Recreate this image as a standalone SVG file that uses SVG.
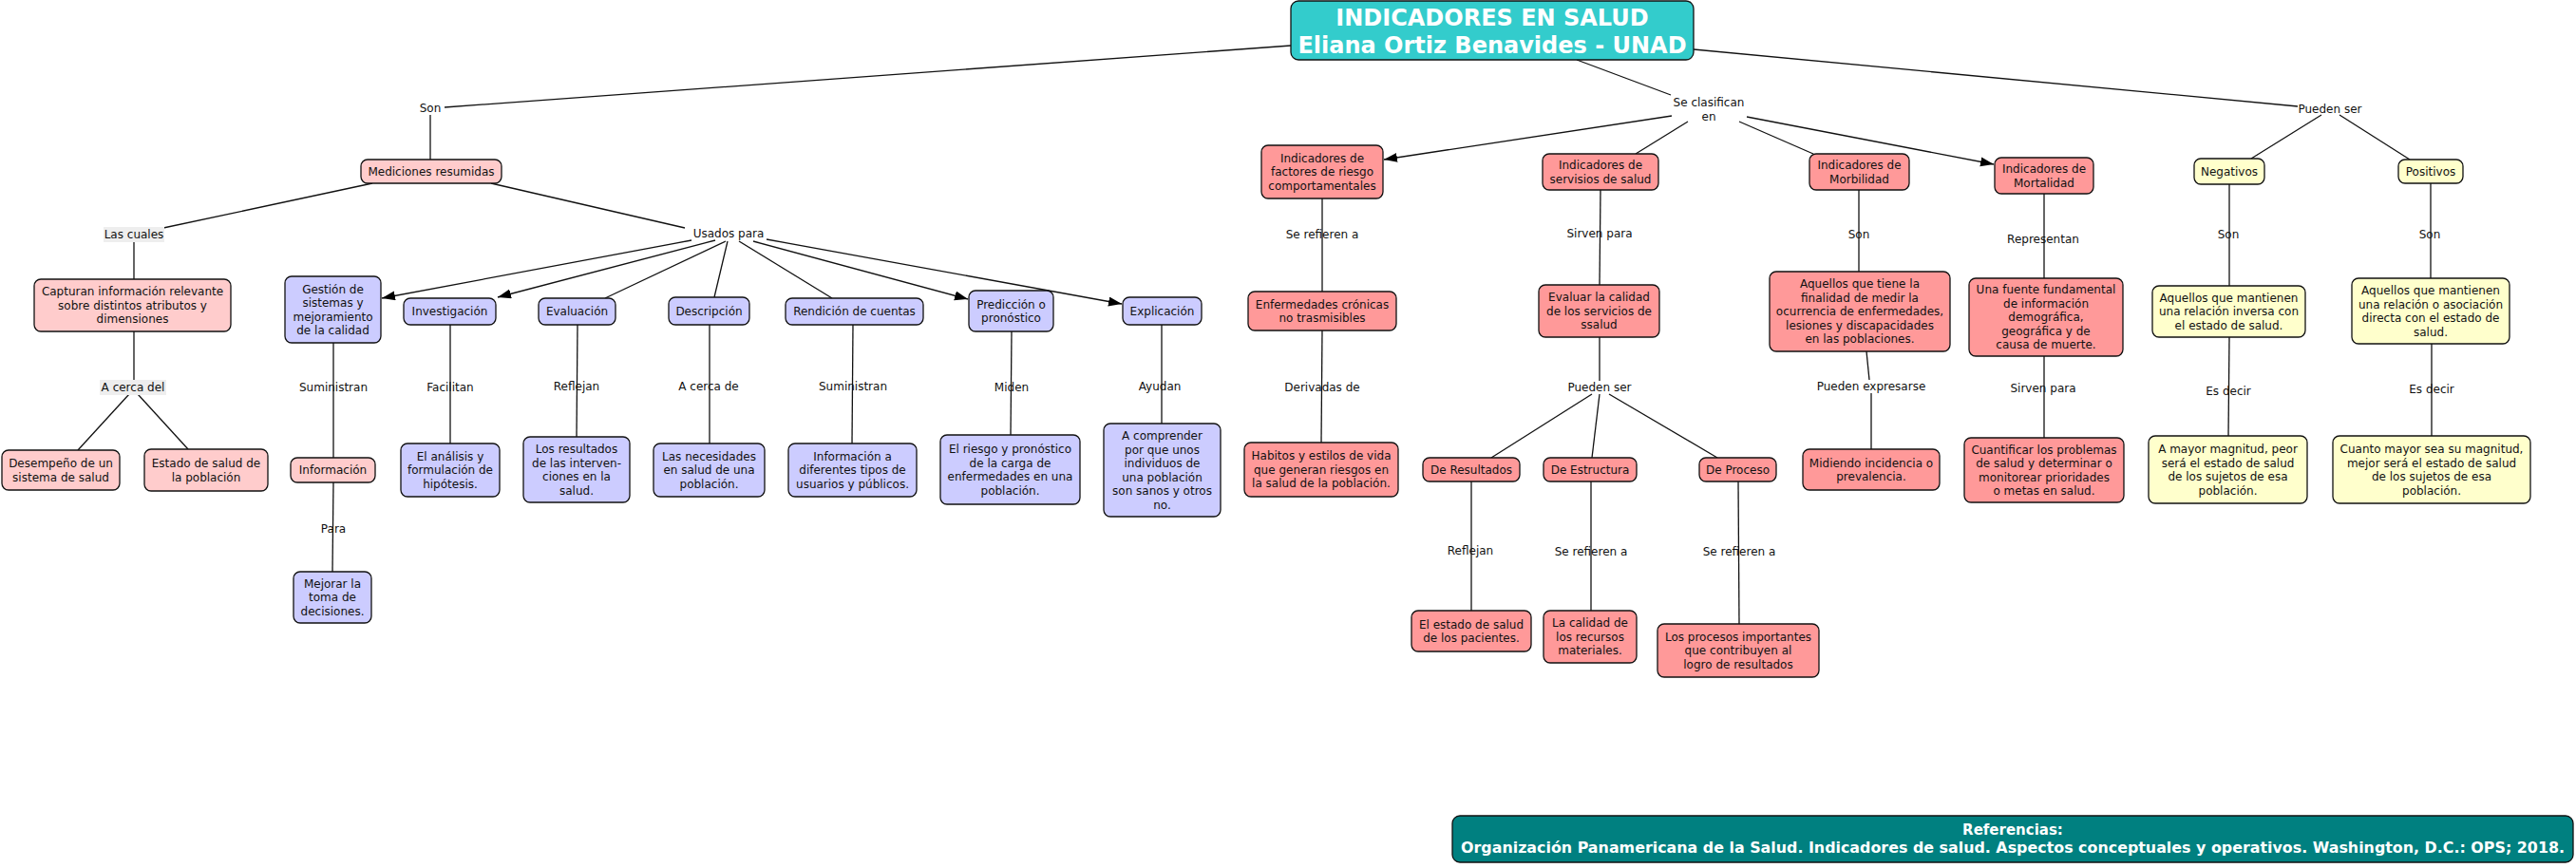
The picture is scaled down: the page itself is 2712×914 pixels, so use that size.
<svg xmlns="http://www.w3.org/2000/svg" width="2712" height="914" viewBox="0 0 2712 914">
<style>
text{font-family:"DejaVu Sans",Verdana,sans-serif;font-size:12px;fill:#111;text-anchor:middle}
.b{stroke:#111;stroke-width:1.3}
.pk{fill:#ffcccc}.lv{fill:#ccccff}.sa{fill:#ff9999}.ye{fill:#ffffcc}
.c line{stroke:#111;stroke-width:1.3}
.ttl{font-size:24px;font-weight:bold;fill:#fff}
.ref{font-size:15px;font-weight:bold;fill:#fff}
</style>
<defs>
<marker id="ar" markerUnits="userSpaceOnUse" markerWidth="16" markerHeight="12" refX="14" refY="5" orient="auto">
<path d="M0,0 L14,5 L0,10 z" fill="#000"/>
</marker>
</defs>
<rect width="2712" height="914" fill="#fff"/>

<g id="connectors" class="c">
<line x1="1359" y1="48" x2="468" y2="113"/>
<line x1="453" y1="121" x2="453" y2="168"/>
<line x1="392" y1="193" x2="172" y2="240"/>
<line x1="141" y1="254" x2="141" y2="294"/>
<line x1="141" y1="349" x2="141" y2="401"/>
<line x1="136" y1="415" x2="82" y2="474"/>
<line x1="145" y1="415" x2="198" y2="473"/>
<line x1="517" y1="193" x2="721" y2="240"/>
<line x1="728" y1="253" x2="402" y2="314" marker-end="url(#ar)"/>
<line x1="753" y1="253" x2="524" y2="313" marker-end="url(#ar)"/>
<line x1="764" y1="254" x2="637" y2="314"/>
<line x1="766" y1="254" x2="752" y2="313"/>
<line x1="778" y1="254" x2="876" y2="314"/>
<line x1="793" y1="254" x2="1019" y2="315" marker-end="url(#ar)"/>
<line x1="807" y1="252" x2="1181" y2="320" marker-end="url(#ar)"/>
<line x1="351" y1="361" x2="351" y2="482"/>
<line x1="351" y1="508" x2="350" y2="602"/>
<line x1="474" y1="342" x2="474" y2="467"/>
<line x1="608" y1="342" x2="607" y2="460"/>
<line x1="747" y1="342" x2="747" y2="467"/>
<line x1="898" y1="342" x2="897" y2="467"/>
<line x1="1065" y1="349" x2="1064" y2="458"/>
<line x1="1223" y1="342" x2="1223" y2="446"/>
<line x1="1660" y1="63" x2="1759" y2="100"/>
<line x1="1760" y1="122" x2="1457" y2="168" marker-end="url(#ar)"/>
<line x1="1777" y1="128" x2="1722" y2="162"/>
<line x1="1831" y1="128" x2="1909" y2="162"/>
<line x1="1839" y1="123" x2="2099" y2="173" marker-end="url(#ar)"/>
<line x1="1392" y1="209" x2="1392" y2="307"/>
<line x1="1392" y1="348" x2="1391" y2="466"/>
<line x1="1685" y1="200" x2="1684" y2="300"/>
<line x1="1684" y1="355" x2="1684" y2="401"/>
<line x1="1676" y1="415" x2="1570" y2="482"/>
<line x1="1684" y1="415" x2="1676" y2="482"/>
<line x1="1694" y1="415" x2="1808" y2="482"/>
<line x1="1549" y1="507" x2="1549" y2="643"/>
<line x1="1675" y1="507" x2="1675" y2="643"/>
<line x1="1830" y1="507" x2="1831" y2="657"/>
<line x1="1957" y1="200" x2="1957" y2="286"/>
<line x1="1965" y1="370" x2="1968" y2="400"/>
<line x1="1970" y1="414" x2="1970" y2="473"/>
<line x1="2152" y1="204" x2="2152" y2="293"/>
<line x1="2152" y1="375" x2="2152" y2="461"/>
<line x1="1783" y1="52" x2="2419" y2="112"/>
<line x1="2444" y1="121" x2="2370" y2="167"/>
<line x1="2463" y1="121" x2="2537" y2="168"/>
<line x1="2347" y1="194" x2="2347" y2="301"/>
<line x1="2347" y1="355" x2="2346" y2="459"/>
<line x1="2559" y1="193" x2="2559" y2="293"/>
<line x1="2560" y1="362" x2="2560" y2="459"/>
</g>

<g id="labels">
<text x="453" y="118">Son</text>
<rect x="109" y="239" width="64" height="16" fill="#eeeeee"/>
<text x="141" y="251">Las cuales</text>
<rect x="105" y="400" width="70" height="16" fill="#eeeeee"/>
<text x="140" y="412">A cerca del</text>
<text x="767" y="250">Usados para</text>
<text x="351" y="412">Suministran</text>
<text x="351" y="561">Para</text>
<text x="474" y="412">Facilitan</text>
<text x="607" y="411">Reflejan</text>
<text x="746" y="411">A cerca de</text>
<text x="898" y="411">Suministran</text>
<text x="1065" y="412">Miden</text>
<text x="1221" y="411">Ayudan</text>
<text x="1799" y="112">Se clasifican</text>
<text x="1799" y="127">en</text>
<text x="1392" y="251">Se refieren a</text>
<text x="1392" y="412">Derivadas de</text>
<text x="1684" y="250">Sirven para</text>
<text x="1684" y="412">Pueden ser</text>
<text x="1548" y="584">Reflejan</text>
<text x="1675" y="585">Se refieren a</text>
<text x="1831" y="585">Se refieren a</text>
<text x="1957" y="251">Son</text>
<text x="1970" y="411">Pueden expresarse</text>
<text x="2151" y="256">Representan</text>
<text x="2151" y="413">Sirven para</text>
<text x="2453" y="119">Pueden ser</text>
<text x="2346" y="251">Son</text>
<text x="2558" y="251">Son</text>
<text x="2346" y="416">Es decir</text>
<text x="2560" y="414">Es decir</text>
</g>

<g id="title"><rect class="b" x="1359" y="1" width="424" height="62" rx="8" fill="#33cccc"/>
<text class="ttl" x="1571" y="27">INDICADORES EN SALUD</text>
<text class="ttl" x="1571" y="56">Eliana Ortiz Benavides - UNAD</text></g>

<g id="med"><rect class="b pk" x="380" y="168" width="148" height="25" rx="7"/><text x="454" y="185">Mediciones resumidas</text></g>
<g id="capt"><rect class="b pk" x="36" y="294" width="207" height="55" rx="7"/><text x="139.5" y="311.3">Capturan información relevante<tspan x="139.5" dy="14.5">sobre distintos atributos y</tspan><tspan x="139.5" dy="14.5">dimensiones</tspan></text></g>
<g id="desemp"><rect class="b pk" x="2" y="474" width="124" height="42" rx="7"/><text x="64" y="492">Desempeño de un<tspan x="64" dy="14.5">sistema de salud</tspan></text></g>
<g id="estado"><rect class="b pk" x="152" y="473" width="130" height="44" rx="7"/><text x="217" y="492">Estado de salud de<tspan x="217" dy="14.5">la población</tspan></text></g>
<g id="gestion"><rect class="b lv" x="300" y="291" width="101" height="70" rx="7"/><text x="350.5" y="308.5">Gestión de<tspan x="350.5" dy="14.5">sistemas y</tspan><tspan x="350.5" dy="14.5">mejoramiento</tspan><tspan x="350.5" dy="14.5">de la calidad</tspan></text></g>
<g id="info"><rect class="b pk" x="306" y="482" width="89" height="26" rx="7"/><text x="350.5" y="499.3">Información</text></g>
<g id="mejorar"><rect class="b lv" x="309" y="602" width="82" height="54" rx="7"/><text x="350" y="618.8">Mejorar la<tspan x="350" dy="14.5">toma de</tspan><tspan x="350" dy="14.5">decisiones.</tspan></text></g>
<g id="invest"><rect class="b lv" x="425" y="314" width="97" height="28" rx="7"/><text x="473.5" y="332.3">Investigación</text></g>
<g id="analisis"><rect class="b lv" x="422" y="467" width="104" height="56" rx="7"/><text x="474" y="484.8">El análisis y<tspan x="474" dy="14.5">formulación de</tspan><tspan x="474" dy="14.5">hipótesis.</tspan></text></g>
<g id="eval"><rect class="b lv" x="567" y="314" width="81" height="28" rx="7"/><text x="607.5" y="332.3">Evaluación</text></g>
<g id="resultados"><rect class="b lv" x="551" y="460" width="112" height="69" rx="7"/><text x="607" y="477">Los resultados<tspan x="607" dy="14.5">de las interven-</tspan><tspan x="607" dy="14.5">ciones en la</tspan><tspan x="607" dy="14.5">salud.</tspan></text></g>
<g id="descr"><rect class="b lv" x="704" y="313" width="85" height="29" rx="7"/><text x="746.5" y="331.8">Descripción</text></g>
<g id="necesidades"><rect class="b lv" x="688" y="467" width="117" height="56" rx="7"/><text x="746.5" y="484.8">Las necesidades<tspan x="746.5" dy="14.5">en salud de una</tspan><tspan x="746.5" dy="14.5">población.</tspan></text></g>
<g id="rendicion"><rect class="b lv" x="827" y="314" width="145" height="28" rx="7"/><text x="899.5" y="332.3">Rendición de cuentas</text></g>
<g id="infoa"><rect class="b lv" x="830" y="467" width="135" height="56" rx="7"/><text x="897.5" y="484.8">Información a<tspan x="897.5" dy="14.5">diferentes tipos de</tspan><tspan x="897.5" dy="14.5">usuarios y públicos.</tspan></text></g>
<g id="predic"><rect class="b lv" x="1020" y="306" width="89" height="43" rx="7"/><text x="1064.5" y="324.5">Predicción o<tspan x="1064.5" dy="14.5">pronóstico</tspan></text></g>
<g id="riesgo"><rect class="b lv" x="990" y="458" width="147" height="73" rx="7"/><text x="1063.5" y="477">El riesgo y pronóstico<tspan x="1063.5" dy="14.5">de la carga de</tspan><tspan x="1063.5" dy="14.5">enfermedades en una</tspan><tspan x="1063.5" dy="14.5">población.</tspan></text></g>
<g id="explic"><rect class="b lv" x="1182" y="313" width="83" height="29" rx="7"/><text x="1223.5" y="331.8">Explicación</text></g>
<g id="comprender"><rect class="b lv" x="1162" y="446" width="123" height="98" rx="7"/><text x="1223.5" y="463">A comprender<tspan x="1223.5" dy="14.5">por que unos</tspan><tspan x="1223.5" dy="14.5">individuos de</tspan><tspan x="1223.5" dy="14.5">una población</tspan><tspan x="1223.5" dy="14.5">son sanos y otros</tspan><tspan x="1223.5" dy="14.5">no.</tspan></text></g>

<g id="factores"><rect class="b sa" x="1328" y="153" width="128" height="56" rx="7"/><text x="1392" y="170.8">Indicadores de<tspan x="1392" dy="14.5">factores de riesgo</tspan><tspan x="1392" dy="14.5">comportamentales</tspan></text></g>
<g id="enfermedades"><rect class="b sa" x="1314" y="307" width="156" height="41" rx="7"/><text x="1392" y="324.5">Enfermedades crónicas<tspan x="1392" dy="14.5">no trasmisibles</tspan></text></g>
<g id="habitos"><rect class="b sa" x="1310" y="466" width="162" height="57" rx="7"/><text x="1391" y="484.3">Habitos y estilos de vida<tspan x="1391" dy="14.5">que generan riesgos en</tspan><tspan x="1391" dy="14.5">la salud de la población.</tspan></text></g>
<g id="servisios"><rect class="b sa" x="1624" y="162" width="122" height="38" rx="7"/><text x="1685" y="178">Indicadores de<tspan x="1685" dy="14.5">servisios de salud</tspan></text></g>
<g id="evaluar"><rect class="b sa" x="1620" y="300" width="127" height="55" rx="7"/><text x="1683.5" y="317.3">Evaluar la calidad<tspan x="1683.5" dy="14.5">de los servicios de</tspan><tspan x="1683.5" dy="14.5">ssalud</tspan></text></g>
<g id="deres"><rect class="b sa" x="1498" y="482" width="102" height="25" rx="7"/><text x="1549" y="498.8">De Resultados</text></g>
<g id="deestr"><rect class="b sa" x="1625" y="482" width="98" height="25" rx="7"/><text x="1674" y="498.8">De Estructura</text></g>
<g id="deproc"><rect class="b sa" x="1789" y="482" width="81" height="25" rx="7"/><text x="1829.5" y="498.8">De Proceso</text></g>
<g id="estadopac"><rect class="b sa" x="1486" y="643" width="126" height="43" rx="7"/><text x="1549" y="661.5">El estado de salud<tspan x="1549" dy="14.5">de los pacientes.</tspan></text></g>
<g id="calidad"><rect class="b sa" x="1625" y="643" width="98" height="55" rx="7"/><text x="1674" y="660.3">La calidad de<tspan x="1674" dy="14.5">los recursos</tspan><tspan x="1674" dy="14.5">materiales.</tspan></text></g>
<g id="procesos"><rect class="b sa" x="1745" y="657" width="170" height="56" rx="7"/><text x="1830" y="674.8">Los procesos importantes<tspan x="1830" dy="14.5">que contribuyen al</tspan><tspan x="1830" dy="14.5">logro de resultados</tspan></text></g>
<g id="morbilidad"><rect class="b sa" x="1905" y="162" width="105" height="38" rx="7"/><text x="1957.5" y="178">Indicadores de<tspan x="1957.5" dy="14.5">Morbilidad</tspan></text></g>
<g id="aquellosmorb"><rect class="b sa" x="1863" y="286" width="190" height="84" rx="7"/><text x="1958" y="303.3">Aquellos que tiene la<tspan x="1958" dy="14.5">finalidad de medir la</tspan><tspan x="1958" dy="14.5">ocurrencia de enfermedades,</tspan><tspan x="1958" dy="14.5">lesiones y discapacidades</tspan><tspan x="1958" dy="14.5">en las poblaciones.</tspan></text></g>
<g id="midiendo"><rect class="b sa" x="1898" y="473" width="144" height="43" rx="7"/><text x="1970" y="491.5">Midiendo incidencia o<tspan x="1970" dy="14.5">prevalencia.</tspan></text></g>
<g id="mortalidad"><rect class="b sa" x="2100" y="166" width="104" height="38" rx="7"/><text x="2152" y="182">Indicadores de<tspan x="2152" dy="14.5">Mortalidad</tspan></text></g>
<g id="fuente"><rect class="b sa" x="2073" y="293" width="162" height="82" rx="7"/><text x="2154" y="309.3">Una fuente fundamental<tspan x="2154" dy="14.5">de información</tspan><tspan x="2154" dy="14.5">demográfica,</tspan><tspan x="2154" dy="14.5">geográfica y de</tspan><tspan x="2154" dy="14.5">causa de muerte.</tspan></text></g>
<g id="cuantificar"><rect class="b sa" x="2068" y="461" width="168" height="68" rx="7"/><text x="2152" y="477.5">Cuantificar los problemas<tspan x="2152" dy="14.5">de salud y determinar o</tspan><tspan x="2152" dy="14.5">monitorear prioridades</tspan><tspan x="2152" dy="14.5">o metas en salud.</tspan></text></g>

<g id="negativos"><rect class="b ye" x="2310" y="167" width="74" height="27" rx="7"/><text x="2347" y="184.8">Negativos</text></g>
<g id="positivos"><rect class="b ye" x="2525" y="168" width="68" height="25" rx="7"/><text x="2559" y="184.8">Positivos</text></g>
<g id="inversa"><rect class="b ye" x="2266" y="301" width="161" height="54" rx="7"/><text x="2346.5" y="317.8">Aquellos que mantienen<tspan x="2346.5" dy="14.5">una relación inversa con</tspan><tspan x="2346.5" dy="14.5">el estado de salud.</tspan></text></g>
<g id="directa"><rect class="b ye" x="2476" y="293" width="166" height="69" rx="7"/><text x="2559" y="310">Aquellos que mantienen<tspan x="2559" dy="14.5">una relación o asociación</tspan><tspan x="2559" dy="14.5">directa con el estado de</tspan><tspan x="2559" dy="14.5">salud.</tspan></text></g>
<g id="mayor"><rect class="b ye" x="2262" y="459" width="167" height="71" rx="7"/><text x="2345.5" y="477">A mayor magnitud, peor<tspan x="2345.5" dy="14.5">será el estado de salud</tspan><tspan x="2345.5" dy="14.5">de los sujetos de esa</tspan><tspan x="2345.5" dy="14.5">población.</tspan></text></g>
<g id="cuanto"><rect class="b ye" x="2456" y="459" width="208" height="71" rx="7"/><text x="2560" y="477">Cuanto mayor sea su magnitud,<tspan x="2560" dy="14.5">mejor será el estado de salud</tspan><tspan x="2560" dy="14.5">de los sujetos de esa</tspan><tspan x="2560" dy="14.5">población.</tspan></text></g>

<g id="refs"><rect class="b" x="1529" y="859" width="1180" height="49" rx="8" fill="#008080"/>
<text class="ref" x="2119" y="879">Referencias:</text>
<text class="ref" x="2119" y="898" textLength="1162" lengthAdjust="spacingAndGlyphs">Organización Panamericana de la Salud. Indicadores de salud. Aspectos conceptuales y operativos. Washington, D.C.: OPS; 2018.</text></g>
</svg>
